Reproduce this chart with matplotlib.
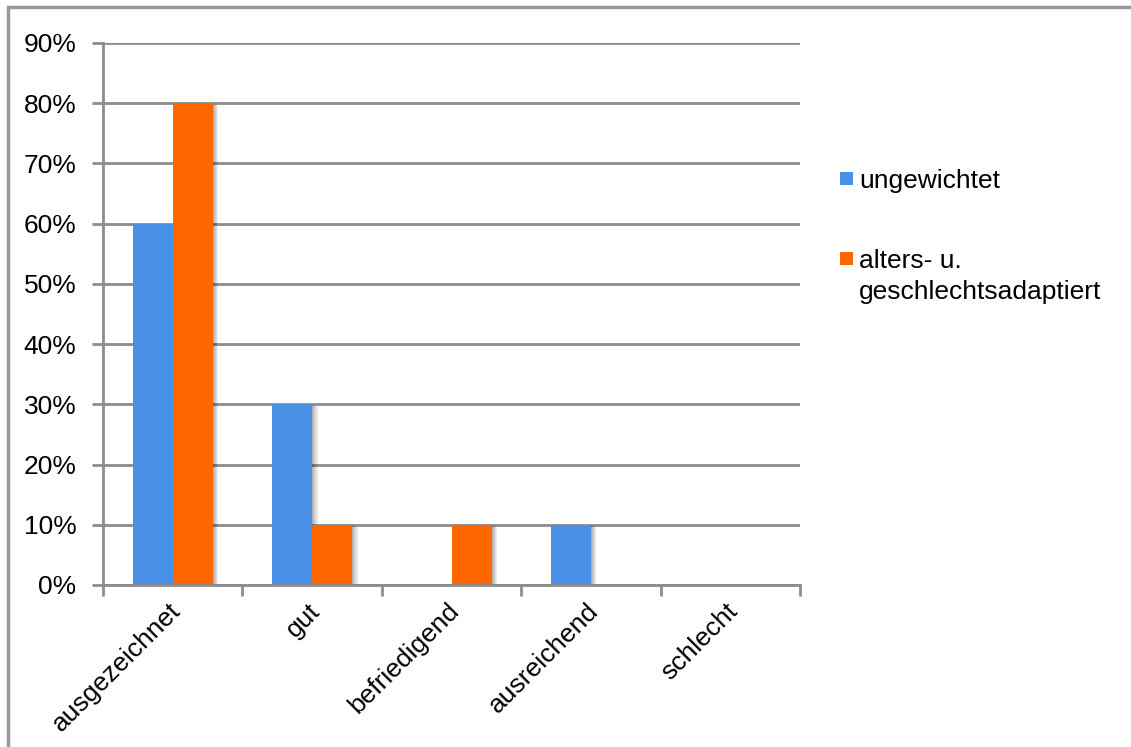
import matplotlib
matplotlib.use("Agg")
import matplotlib.pyplot as plt
import matplotlib.patheffects as pe
from matplotlib.patches import Rectangle
import numpy as np

# Daten
categories = ["ausgezeichnet", "gut", "befriedigend", "ausreichend", "schlecht"]
ungewichtet = [0.60, 0.30, 0.0, 0.10, 0.0]
adaptiert = [0.80, 0.10, 0.10, 0.0, 0.0]
series_labels = ["ungewichtet", "alters- u.\ngeschlechtsadaptiert"]
yticks = [0.0, 0.1, 0.2, 0.3, 0.4, 0.5, 0.6, 0.7, 0.8, 0.9]

plt.rcParams['font.family'] = ['Liberation Sans', 'DejaVu Sans']

BLUE = "#4891E6"
ORANGE = "#FF6600"
GRID = "#8C8C8C"
W, H = 1131, 747

fig = plt.figure(figsize=(W / 100, H / 100), dpi=100)
ax = fig.add_axes([103 / W, 1 - 585 / H, 697 / W, 542 / H])

x = np.arange(len(categories))
w = 0.287
# weicher Schatten rechts neben den Balken
shadow = [pe.SimplePatchShadow(offset=(k * 0.8, -k * 0.25), shadow_rgbFace="black", alpha=0.07)
          for k in range(1, 6)] + [pe.Normal()]
ax.bar(x - w / 2, ungewichtet, w, color=BLUE, zorder=3, path_effects=shadow)
ax.bar(x + w / 2, adaptiert, w, color=ORANGE, zorder=3, path_effects=shadow)

ax.set_xlim(-0.5, len(categories) - 0.5)
ax.set_ylim(0, 0.9)
ax.set_yticks(yticks)
ax.set_yticklabels([f"{int(round(v * 100))}%" for v in yticks], fontsize=19)
ax.yaxis.grid(True, color=GRID, linewidth=2, zorder=0)
ax.set_axisbelow(True)

# Kategorie-Ticks an den Grenzen
ax.set_xticks(np.arange(len(categories) + 1) - 0.5)
ax.set_xticklabels([])
ax.tick_params(axis="x", length=8, width=2, color=GRID, direction="out")
ax.tick_params(axis="y", length=8, width=2, color=GRID, direction="out", pad=11)
for c, name in zip(x, categories):
    ax.annotate(name, xy=(c, 0), xycoords=("data", "axes fraction"),
                xytext=(3, -16), textcoords="offset points",
                rotation=45, rotation_mode="anchor", ha="right", va="center",
                fontsize=19)

for s in ["top", "right"]:
    ax.spines[s].set_visible(False)
for s in ["left", "bottom"]:
    ax.spines[s].set_color(GRID)
    ax.spines[s].set_linewidth(2)
ax.spines["bottom"].set_zorder(4)

# Legende
legend_colors = [BLUE, ORANGE]
legend_y = [178.5, 258.5]
for col, yy, lab in zip(legend_colors, legend_y, series_labels):
    fig.add_artist(Rectangle((840 / W, 1 - (yy + 6.5) / H), 13 / W, 13 / H,
                             transform=fig.transFigure, facecolor=col, edgecolor="none"))
    first, *rest = lab.split("\n")
    fig.text(859 / W, 1 - yy / H, first, fontsize=19, ha="left", va="center_baseline")
    for i, line in enumerate(rest, start=1):
        fig.text(859 / W, 1 - (yy + 31 * i) / H, line, fontsize=19, ha="left", va="center_baseline")

# Rahmen
fig.add_artist(Rectangle((8 / W, -0.1), 1.2, 1.1 - 7 / H, transform=fig.transFigure,
                         fill=False, edgecolor="#999999", linewidth=2.5, zorder=10))

fig.savefig("out.png", dpi=100)
